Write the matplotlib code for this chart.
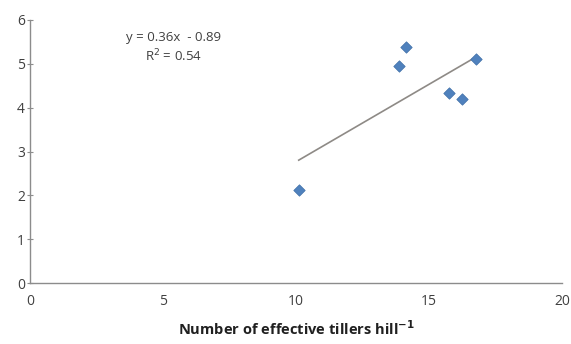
import numpy as np
import matplotlib
matplotlib.use('Agg')
import matplotlib.pyplot as plt

# Data
tillers = [10.1, 13.85, 14.15, 15.75, 16.25, 16.75]
yield_vals = [2.12, 4.96, 5.38, 4.34, 4.19, 5.1]
x_ticks = [0, 5, 10, 15, 20]
y_ticks = [0, 1, 2, 3, 4, 5, 6]

plt.rcParams['font.family'] = ['Open Sans', 'DejaVu Sans']

fig = plt.figure(figsize=(5.71, 3.44), dpi=100)
ax = fig.add_axes([0.0525, 0.177, 0.932, 0.765])

ax.scatter(tillers, yield_vals, marker='D', s=34, color='#4F81BD',
           edgecolors='#3F6FA8', linewidths=0.5, zorder=3)

# linear trendline
slope, intercept = np.polyfit(tillers, yield_vals, 1)
xs = np.array([min(tillers), max(tillers)])
ax.plot(xs, slope * xs + intercept, color='#8E8A86', lw=1.2, zorder=2)

ax.text(0.27, 0.895, 'y = 0.36x  - 0.89\nR$^2$ = 0.54', transform=ax.transAxes,
        ha='center', va='center', fontsize=9.5, color='#404040', linespacing=1.25)

ax.set_xlim(0, 20)
ax.set_ylim(0, 6)
ax.set_xticks(x_ticks)
ax.set_yticks(y_ticks)
ax.tick_params(axis='x', length=0, pad=8, labelsize=10, labelcolor='#404040')
ax.tick_params(axis='y', direction='inout', length=5, width=0.8, color='#8C8C8C',
               pad=1, labelsize=10, labelcolor='#404040')

for side in ['top', 'right']:
    ax.spines[side].set_visible(False)
for side in ['left', 'bottom']:
    ax.spines[side].set_color('#8C8C8C')
    ax.spines[side].set_linewidth(1.0)

ax.set_xlabel('Number of effective tillers hill$^{\\mathbf{-1}}$', fontsize=10.5,
              fontweight='bold', color='#202020', labelpad=7)

fig.savefig('out.png', dpi=100)
